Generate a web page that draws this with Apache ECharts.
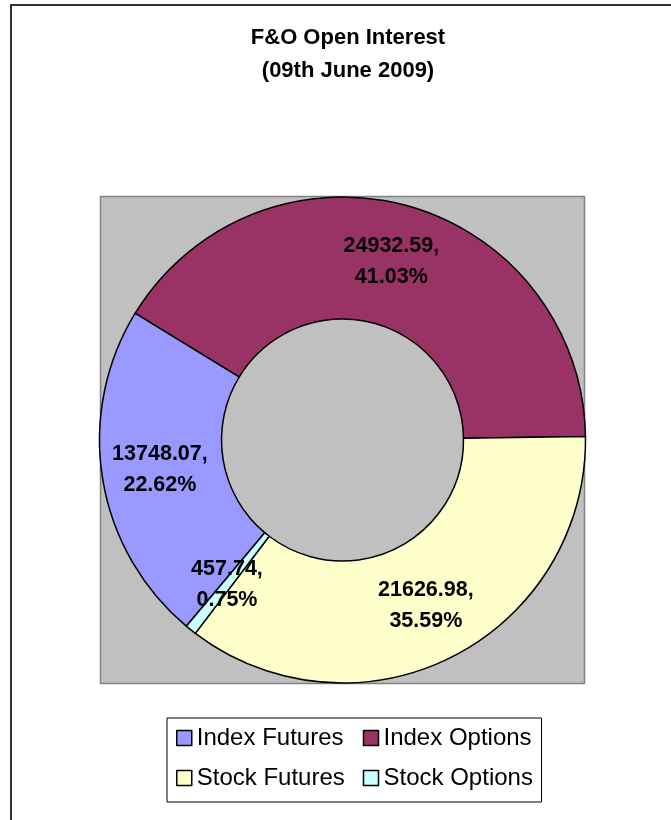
<!DOCTYPE html>
<html>
<head>
<meta charset="utf-8">
<script src="https://cdn.jsdelivr.net/npm/echarts@6/dist/echarts.min.js"></script>
<style>
  html, body { margin: 0; padding: 0; background: #fff; }
  #wrap { position: relative; width: 671px; height: 820px; overflow: hidden; }
  #frame { position: absolute; left: 10px; top: 4px; width: 700px; height: 900px;
           border-left: 2px solid #333; border-top: 2px solid #333; box-sizing: border-box; }
  #chart { position: absolute; left: 0; top: 0; width: 671px; height: 820px; }
</style>
</head>
<body>
<div id="wrap">
  <div id="frame"></div>
  <div id="chart"></div>
</div>
<script>
const titleLines = ['F&O Open Interest', '(09th June 2009)'];
const categories = ['Index Futures', 'Index Options', 'Stock Futures', 'Stock Options'];
const values = [13748.07, 24932.59, 21626.98, 457.74];
const colors = ['#9999FF', '#993366', '#FFFFCC', '#CCFFFF'];

const total = values.reduce((a, b) => a + b, 0);
const FONT = "'Liberation Sans', Arial, sans-serif";

const chart = echarts.init(document.getElementById('chart'), null, { renderer: 'canvas' });
chart.setOption({
  animation: false,
  backgroundColor: 'transparent',
  title: {
    text: titleLines.join('\n'),
    left: 343,
    top: 16,
    textAlign: 'center',
    textStyle: { fontFamily: FONT, fontSize: 22, fontWeight: 'bold', color: '#000', lineHeight: 33 }
  },
  graphic: [{
    type: 'rect',
    z: 0,
    silent: true,
    shape: { x: 100.5, y: 196.5, width: 484, height: 487 },
    style: { fill: '#C0C0C0', stroke: '#808080', lineWidth: 1.5 }
  }],
  legend: {
    data: categories,
    orient: 'horizontal',
    left: 167,
    top: 718,
    width: 360,
    padding: [7, 6, 11, 9],
    itemGap: 14,
    itemWidth: 15,
    itemHeight: 15,
    icon: 'rect',
    backgroundColor: '#fff',
    borderColor: '#000',
    borderWidth: 1,
    itemStyle: { borderColor: '#000', borderWidth: 1.5 },
    textStyle: { fontFamily: FONT, fontSize: 24, color: '#000', width: 152, lineHeight: 26 }
  },
  series: [{
    type: 'pie',
    z: 2,
    center: [342.5, 440],
    radius: [121, 243],
    startAngle: 230,
    clockwise: true,
    avoidLabelOverlap: false,
    itemStyle: { borderColor: '#000', borderWidth: 1.5 },
    emphasis: { disabled: true },
    label: {
      show: true,
      position: 'inside',
      fontFamily: FONT,
      fontSize: 21.5,
      fontWeight: 'bold',
      color: '#000',
      lineHeight: 31,
      align: 'center',
      formatter: p => p.value.toFixed(2) + ',\n' + (p.value / total * 100).toFixed(2) + '%'
    },
    labelLine: { show: false },
    data: categories.map((c, i) => ({ name: c, value: values[i], itemStyle: { color: colors[i] } }))
  }]
});
</script>
</body>
</html>
